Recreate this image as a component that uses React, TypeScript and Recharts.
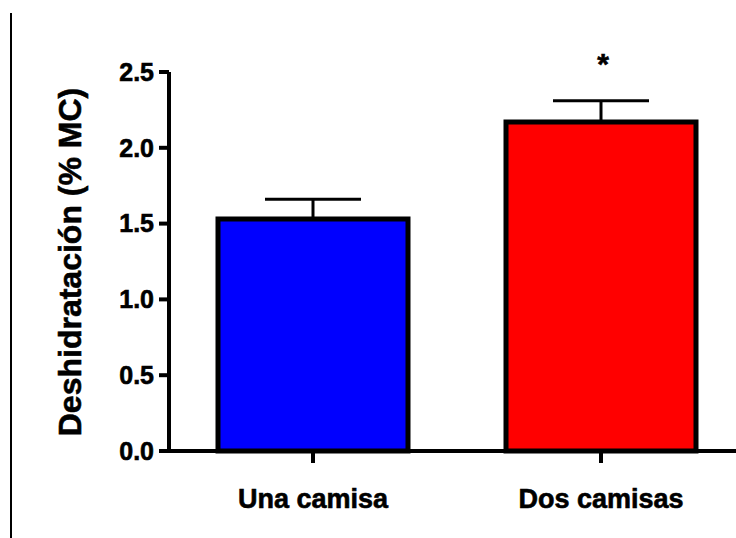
import React from 'react';
import { BarChart, Bar, XAxis, YAxis, Cell, ErrorBar, LabelList, Label } from 'recharts';

const categories = ['Una camisa', 'Dos camisas'];
const means = [1.53, 2.17];
const sem = [0.13, 0.14];
const significance = ['', '*'];
const yTicks = [0, 0.5, 1.0, 1.5, 2.0, 2.5];

const BAR_COLORS = ['#0000ff', '#ff0000'];
const FONT = '"Liberation Sans", Arial, sans-serif';

const data = categories.map((name, i) => ({
  name,
  value: means[i],
  err: [0, sem[i]],
  sig: significance[i],
}));

const StarLabel = (props: any) => {
  const { x, y, width, value } = props;
  if (!value) return null;
  return (
    <text x={x + width / 2 + 2} y={y - 48} textAnchor="middle" fontFamily={FONT} fontWeight="bold" fontSize={30} fill="#000" stroke="#000" strokeWidth={0.6}>
      {value}
    </text>
  );
};

const App: React.FC = () => {
  return (
    <div style={{ position: 'absolute', left: 0, top: 0, width: 736, height: 538, overflow: 'hidden', background: '#fff' }}>
      {/* thin frame line on the left */}
      <div style={{ position: 'absolute', left: 10, top: 13, width: 2, height: 525, background: '#000' }} />
      <BarChart width={760} height={538} data={data} margin={{ top: 72, right: 15, bottom: 7, left: 0 }}>
        <XAxis
          dataKey="name"
          height={80}
          axisLine={{ stroke: '#000', strokeWidth: 4 }}
          tickLine={{ stroke: '#000', strokeWidth: 4 }}
          tickSize={12}
          tickMargin={26}
          tick={{ fill: '#000', stroke: '#000', strokeWidth: 0.6, fontSize: 27, fontWeight: 'bold', fontFamily: FONT }}
        />
        <YAxis
          width={169}
          domain={[0, 2.5]}
          ticks={yTicks}
          tickFormatter={(v: number) => v.toFixed(1)}
          axisLine={{ stroke: '#000', strokeWidth: 4 }}
          tickLine={{ stroke: '#000', strokeWidth: 4 }}
          tickSize={10}
          tickMargin={5}
          tick={{ fill: '#000', stroke: '#000', strokeWidth: 0.6, fontSize: 25, fontWeight: 'bold', fontFamily: FONT }}
        >
          <Label
            content={() => (
              <text
                x={81}
                y={262}
                transform="rotate(-90 81 262)"
                textAnchor="middle"
                fontFamily={FONT}
                fontWeight="bold"
                fontSize={32}
                fill="#000"
                stroke="#000"
                strokeWidth={0.6}
              >
                Deshidratación (% MC)
              </text>
            )}
          />
        </YAxis>
        <Bar dataKey="value" barSize={190} stroke="#000" strokeWidth={5} isAnimationActive={false}>
          {data.map((entry, index) => (
            <Cell key={`cell-${index}`} fill={BAR_COLORS[index % BAR_COLORS.length]} />
          ))}
          <ErrorBar dataKey="err" direction="y" width={48} stroke="#000" strokeWidth={3} />
          <LabelList dataKey="sig" content={StarLabel} />
        </Bar>
      </BarChart>
    </div>
  );
};

export default App;
